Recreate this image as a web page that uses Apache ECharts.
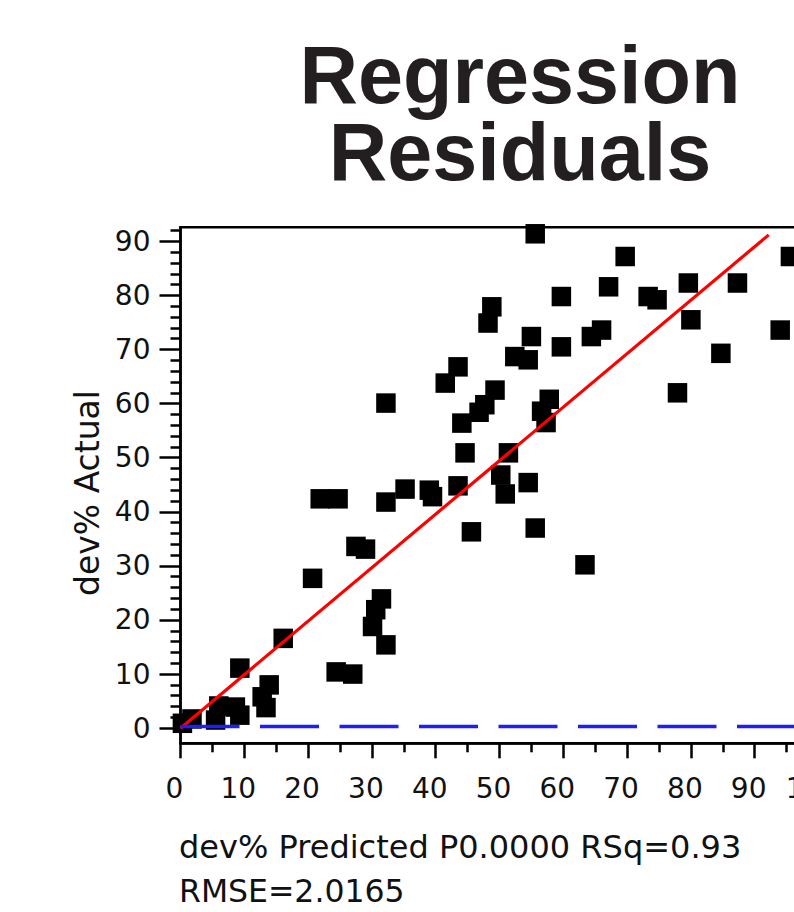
<!DOCTYPE html>
<html>
<head>
<meta charset="utf-8">
<script src="https://cdn.jsdelivr.net/npm/echarts@6/dist/echarts.min.js"></script>
<style>
html,body{margin:0;padding:0;width:794px;height:912px;overflow:hidden;background:#ffffff;}
#chart{width:860px;height:912px;}
</style>
</head>
<body>
<div id="chart"></div>
<script>
// ---- data ----
const predicted = [0.3, 1.8, 5.5, 6.0, 8.6, 9.3, 9.3, 12.8, 13.4, 13.9, 16.1, 20.7, 21.9, 24.7, 24.4, 27.0,
  27.5, 29.0, 30.1, 30.6, 31.5, 32.2, 32.2, 32.2, 35.2, 39.0, 39.5, 41.5, 43.5, 43.5, 44.1, 44.6,
  45.6, 46.8, 47.7, 48.2, 48.8, 49.3, 50.2, 50.9, 51.4, 52.4, 54.5, 54.5, 55.0, 55.6, 55.6, 56.6,
  57.3, 57.8, 59.7, 59.7, 63.4, 64.4, 66.0, 67.1, 69.7, 73.3, 74.7, 77.9, 79.6, 80.0, 84.7, 87.3,
  94.0, 95.6];
const actual = [0.9, 1.7, 1.5, 4.1, 3.9, 2.4, 11.1, 5.8, 3.8, 8.0, 16.6, 27.7, 42.4, 42.4, 10.4, 10.0,
  33.6, 33.1, 18.8, 21.9, 23.9, 15.4, 41.8, 60.1, 44.2, 44.0, 42.8, 63.8, 66.8, 44.8, 56.4, 50.9,
  36.3, 58.4, 59.8, 74.9, 77.9, 62.5, 46.8, 43.3, 50.9, 68.7, 68.1, 45.4, 72.4, 91.4, 37.0, 58.6,
  56.5, 60.8, 79.8, 70.5, 30.2, 72.4, 73.6, 81.6, 87.2, 79.8, 79.2, 62.0, 82.3, 75.5, 69.3, 82.3,
  73.6, 87.2];
const fitX = [0, 92.2];
const fitY = [0, 91.2];
const refX = [0, 104];
const refY = [0.3, 0.3];
const xTicks = [0, 10, 20, 30, 40, 50, 60, 70, 80, 90, 100];
const xMinorTicks = [5, 15, 25, 35, 45, 55, 65, 75, 85, 95];
const yTicks = [0, 10, 20, 30, 40, 50, 60, 70, 80, 90];
const yMinorTicks = [2, 4, 6, 8, 12, 14, 16, 18, 22, 24, 26, 28, 32, 34, 36, 38, 42, 44, 46, 48,
  52, 54, 56, 58, 62, 64, 66, 68, 72, 74, 76, 78, 82, 84, 86, 88, 92];
const titleLine1 = 'Regression';
const titleLine2 = 'Residuals';
const yTitle = 'dev% Actual';
const xTitle1 = 'dev% Predicted P0.0000 RSq=0.93';
const xTitle2 = 'RMSE=2.0165';

const X_MIN = 0, X_MAX = 104, Y_MIN = -2.8, Y_MAX = 92.6;
const FONT = '"DejaVu Sans", "Liberation Sans", sans-serif';
const TITLE_FONT = '"Liberation Sans", Arial, sans-serif';

const chart = echarts.init(document.getElementById('chart'), null, {renderer: 'svg'});

function xAxisDef(ticks, len, labels) {
  return {
    type: 'value', min: X_MIN, max: X_MAX, position: 'bottom', gridIndex: 0,
    axisLine: {show: labels, onZero: false, lineStyle: {color: '#000', width: 2.5}},
    axisTick: {show: true, customValues: ticks, length: len, lineStyle: {color: '#000', width: 2.5}},
    axisLabel: {show: labels, customValues: ticks, margin: 31, fontSize: 28, fontFamily: FONT, color: '#111',
      padding: [0, 12, 0, 0]},
    splitLine: {show: false}, minorTick: {show: false}
  };
}
function yAxisDef(ticks, len, labels) {
  return {
    type: 'value', min: Y_MIN, max: Y_MAX, position: 'left', gridIndex: 0,
    axisLine: {show: labels, onZero: false, lineStyle: {color: '#000', width: 2.5}},
    axisTick: {show: true, customValues: ticks, length: len, lineStyle: {color: '#000', width: 2.5}},
    axisLabel: {show: labels, customValues: ticks, margin: 30, fontSize: 28, fontFamily: FONT, color: '#111'},
    splitLine: {show: false}, minorTick: {show: false}
  };
}

const option = {
  animation: false,
  backgroundColor: '#ffffff',
  grid: {
    left: 180.5, top: 227.3, width: 663.5, bottom: 168.7,
    show: true, borderColor: '#000', borderWidth: 2.5, backgroundColor: 'transparent',
    containLabel: false, outerBoundsMode: 'none'
  },
  xAxis: [xAxisDef(xTicks, 15, true), xAxisDef(xMinorTicks, 9, false)],
  yAxis: [yAxisDef(yTicks, 21, true), yAxisDef(yMinorTicks, 10, false)],
  series: [
    {
      type: 'scatter', xAxisIndex: 0, yAxisIndex: 0,
      data: predicted.map((x, i) => [x, actual[i]]),
      symbol: 'rect', symbolSize: 19.5, clip: false,
      itemStyle: {color: '#000', opacity: 1}, z: 3
    },
    {
      type: 'line', xAxisIndex: 0, yAxisIndex: 0,
      data: fitX.map((x, i) => [x, fitY[i]]),
      showSymbol: false, symbol: 'none', clip: false,
      lineStyle: {color: '#ff0000', width: 3.2, opacity: 1}, z: 4
    },
    {
      type: 'line', xAxisIndex: 0, yAxisIndex: 0,
      data: refX.map((x, i) => [x, refY[i]]),
      showSymbol: false, symbol: 'none',
      lineStyle: {color: '#1f1ff2', width: 3.5, type: [59, 20.5], opacity: 1}, z: 5
    }
  ],
  graphic: [
    {
      type: 'text', x: 520, y: 36.4,
      style: {text: titleLine1, fontSize: 81, fontWeight: 'bold', fontFamily: TITLE_FONT,
        lineHeight: 77, align: 'center', verticalAlign: 'top', fill: '#231f20'}
    },
    {
      type: 'text', x: 520, y: 113.4,
      style: {text: titleLine2, fontSize: 81, fontWeight: 'bold', fontFamily: TITLE_FONT,
        lineHeight: 77, align: 'center', verticalAlign: 'top', fill: '#231f20'}
    },
    {
      type: 'text', x: 87, y: 493, rotation: Math.PI / 2,
      style: {text: yTitle, fontSize: 33, fontFamily: FONT, align: 'center', verticalAlign: 'middle', fill: '#111'}
    },
    {
      type: 'text', x: 179, y: 847,
      style: {text: xTitle1, fontSize: 32, fontFamily: FONT, align: 'left', verticalAlign: 'middle', fill: '#111'}
    },
    {
      type: 'text', x: 179, y: 891,
      style: {text: xTitle2, fontSize: 31.5, fontFamily: FONT, align: 'left', verticalAlign: 'middle', fill: '#111'}
    }
  ]
};
chart.setOption(option);
</script>
</body>
</html>
